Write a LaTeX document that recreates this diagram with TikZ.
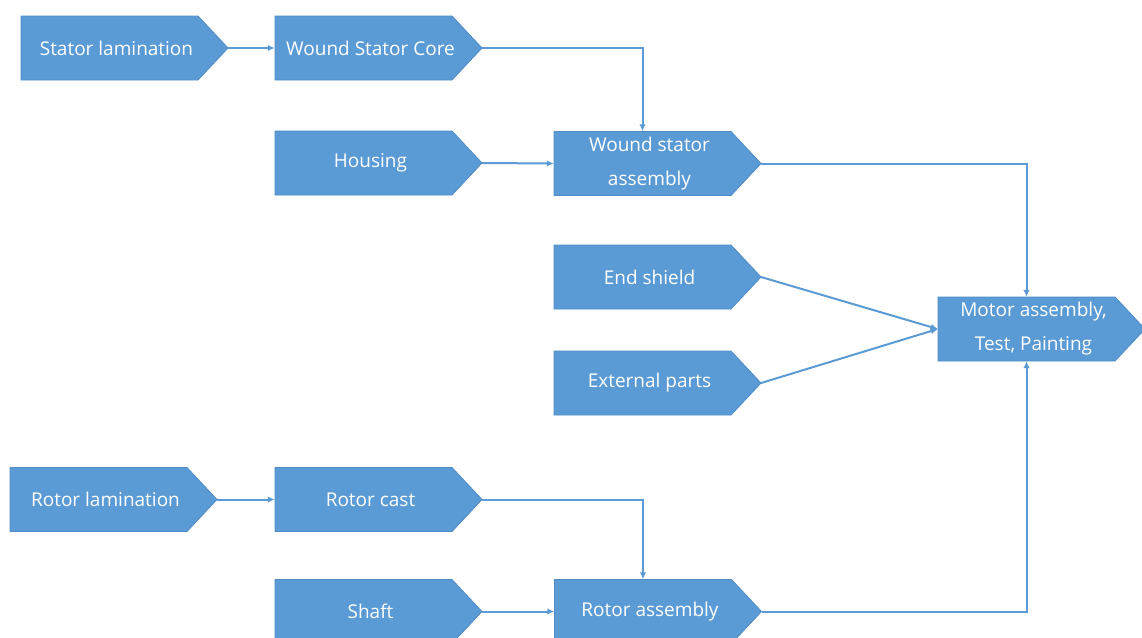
\documentclass[tikz,border=0pt]{standalone}
\usepackage{fontspec}
\setmainfont{Open Sans}
\usetikzlibrary{arrows.meta,calc}
\definecolor{boxfill}{HTML}{5B9BD5}
\definecolor{boxedge}{HTML}{4F8CC6}
\definecolor{linkcol}{HTML}{5B9BD5}
\tikzset{
  stage/.style={rectangle, minimum width=177pt, minimum height=64pt, inner sep=0pt},
  stagetext/.style={inner sep=0pt, text=white, align=center,
    font=\fontsize{19}{34}\selectfont},
  pentagon/.style={fill=boxfill, draw=boxedge, line width=0.8pt},
  link/.style={draw=linkcol, line width=2pt, -{Latex[length=7pt,width=6.5pt]}}
}
% #1 name, #2 x, #3 y (centre of the rectangular body), #4 label
\newcommand\stagebox[4]{%
  \path[pentagon] ({#2-88.5},{#3-32}) -- ({#2+88.5},{#3-32}) -- ({#2+118.5},{#3})
     -- ({#2+88.5},{#3+32}) -- ({#2-88.5},{#3+32}) -- cycle;
  \node[stage] (#1) at (#2,#3) {};
  \node[stagetext] (#1-text) at ({#2+7},{#3}) {#4};
  \coordinate (#1-tip) at ({#2+118.5},{#3});
}
\begin{document}
\begin{tikzpicture}[x=1pt,y=-1pt]
\useasboundingbox (0,0) rectangle (1142,637);
\clip (0,0) rectangle (1142,637);
\fill[white] (0,0) rectangle (1142,637);

\stagebox{slam}{109.5}{48}{Stator lamination}
\stagebox{wsc}{363.5}{48}{Wound Stator Core}
\stagebox{hous}{363.5}{163}{Housing}
\stagebox{wsa}{642.5}{163.5}{Wound stator\\assembly}
\stagebox{ends}{642.5}{277}{End shield}
\stagebox{ext}{642.5}{383}{External parts}
\stagebox{motor}{1026.5}{329}{Motor assembly,\\Test, Painting}
\stagebox{rlam}{98.5}{499.5}{Rotor lamination}
\stagebox{rcast}{363.5}{499.5}{Rotor cast}
\stagebox{shaft}{363.5}{611.5}{Shaft}
\stagebox{rasm}{643}{611.5}{Rotor assembly}

\draw[link] (slam-tip) -- (wsc.west);
\draw[link] (wsc-tip) -| (wsa.north);
\draw[link] (hous-tip) -- (wsa.west);
\draw[link] (wsa-tip) -| (motor.north);
\draw[link] (ends-tip) -- (motor.west);
\draw[link] (ext-tip) -- (motor.west);
\draw[link] (rlam-tip) -- (rcast.west);
\draw[link] (rcast-tip) -| (rasm.north);
\draw[link] (shaft-tip) -- (rasm.west);
\draw[link] (rasm-tip) -| (motor.south);
\end{tikzpicture}
\end{document}
